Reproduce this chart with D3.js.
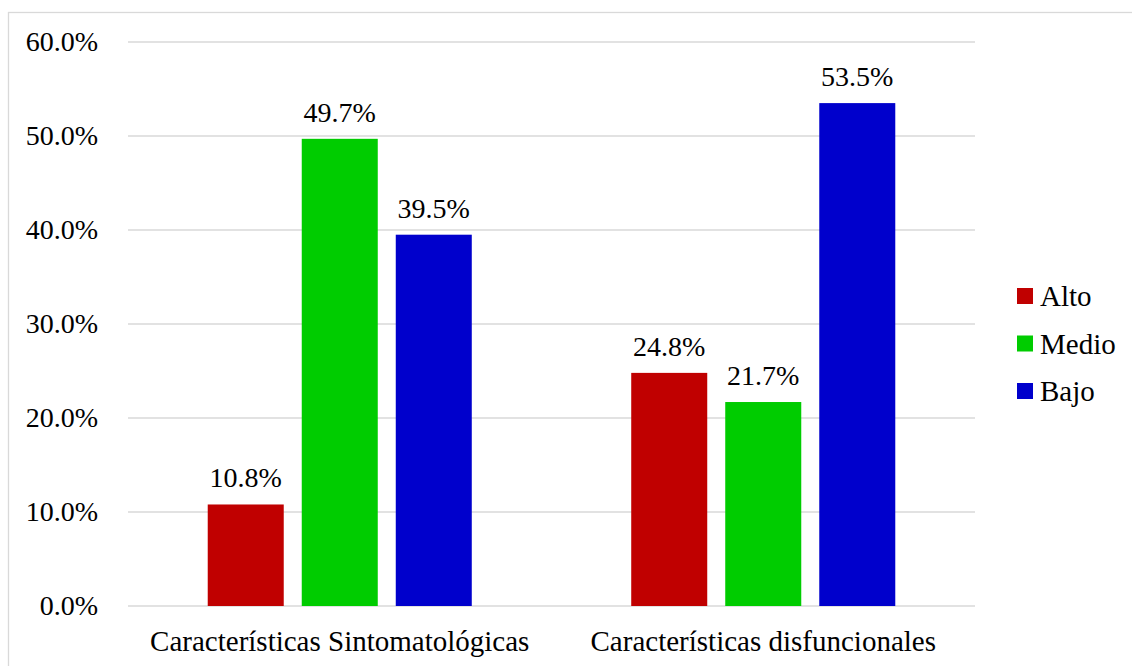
<!DOCTYPE html>
<meta charset="utf-8">
<title>Características - niveles</title>
<style>
body { margin: 0px; background: #fff; }
text { font-family: "Liberation Serif", "Times New Roman", serif; fill: #000; }
.grid line { stroke: #d9d9d9; stroke-width: 1.3; }
</style>
<script src="https://d3js.org/d3.v7.min.js"></script>
<body>
<script>

// Chart data
var categories = ["Características Sintomatológicas", "Características disfuncionales"];
var series = ["Alto", "Medio", "Bajo"];
var alto = [10.8, 24.8];
var medio = [49.7, 21.7];
var bajo = [39.5, 53.5];
var yTicks = [0, 10, 20, 30, 40, 50, 60];
var colors = ["#c00000", "#00cc00", "#0000cc"];

var width = 1132, height = 666;
var mLeft = 128, mRight = 975, mTop = 42, mBottom = 606;

var svg = d3.select("body").append("svg")
    .attr("width", width)
    .attr("height", height);

// outer border of the chart area
svg.append("rect")
  .attr("x", 8.5).attr("y", 12.5)
  .attr("width", width + 10).attr("height", height + 10)
  .attr("fill", "none")
  .attr("stroke", "#d9d9d9")
  .attr("stroke-width", 1.3);

var y = d3.scaleLinear().domain([0, 60]).range([mBottom, mTop]);
var x0 = d3.scaleBand().domain(categories).range([mLeft, mRight]);
var x1 = d3.scaleBand().domain(series).range([0, x0.bandwidth()])
    .paddingInner(18 / 94).paddingOuter(0.848);
var color = d3.scaleOrdinal().domain(series).range(colors);

// gridlines
svg.append("g")
  .attr("class", "grid")
  .selectAll("line")
  .data(yTicks)
  .enter().append("line")
    .attr("x1", mLeft).attr("x2", mRight)
    .attr("y1", function(d) { return y(d); })
    .attr("y2", function(d) { return y(d); });

// y axis labels
var yAxis = d3.axisLeft(y).tickValues(yTicks)
    .tickFormat(function(d) { return d.toFixed(1) + "%"; })
    .tickSize(0).tickPadding(30);
var ya = svg.append("g").attr("transform", "translate(" + mLeft + ",0)").call(yAxis);
ya.select(".domain").remove();
ya.selectAll("text").style("font-size", "28px").style("font-family", "Liberation Serif");

// x axis labels
var xAxis = d3.axisBottom(x0).tickSize(0).tickPadding(24);
var xa = svg.append("g").attr("transform", "translate(0," + mBottom + ")").call(xAxis);
xa.select(".domain").remove();
xa.selectAll("text").style("font-size", "29px").style("font-family", "Liberation Serif");

var values = { "Alto": alto, "Medio": medio, "Bajo": bajo };

var groups = svg.selectAll("g.cat")
  .data(categories)
  .enter().append("g")
    .attr("class", "cat")
    .attr("transform", function(d) { return "translate(" + x0(d) + ",0)"; });

groups.each(function(c, i) {
  var g = d3.select(this);
  var rows = series.map(function(s) { return { s: s, v: values[s][i] }; });
  g.selectAll("rect")
    .data(rows)
    .enter().append("rect")
      .attr("x", function(d) { return x1(d.s); })
      .attr("y", function(d) { return y(d.v); })
      .attr("width", x1.bandwidth())
      .attr("height", function(d) { return y(0) - y(d.v); })
      .attr("fill", function(d) { return color(d.s); });
  g.selectAll("text.lbl")
    .data(rows)
    .enter().append("text")
      .attr("class", "lbl")
      .attr("x", function(d) { return x1(d.s) + x1.bandwidth() / 2; })
      .attr("y", function(d) { return y(d.v) - 17; })
      .attr("text-anchor", "middle")
      .style("font-size", "28px")
      .text(function(d) { return d.v.toFixed(1) + "%"; });
});

// legend
var legend = svg.selectAll("g.legend")
  .data(series)
  .enter().append("g")
    .attr("class", "legend")
    .attr("transform", function(d, i) { return "translate(1017," + (296 + i * 47.5) + ")"; });
legend.append("rect")
  .attr("x", 0).attr("y", -8)
  .attr("width", 16).attr("height", 16)
  .attr("fill", function(d) { return color(d); });
legend.append("text")
  .attr("x", 23).attr("y", 10)
  .style("font-size", "29px")
  .text(function(d) { return d; });

</script>
